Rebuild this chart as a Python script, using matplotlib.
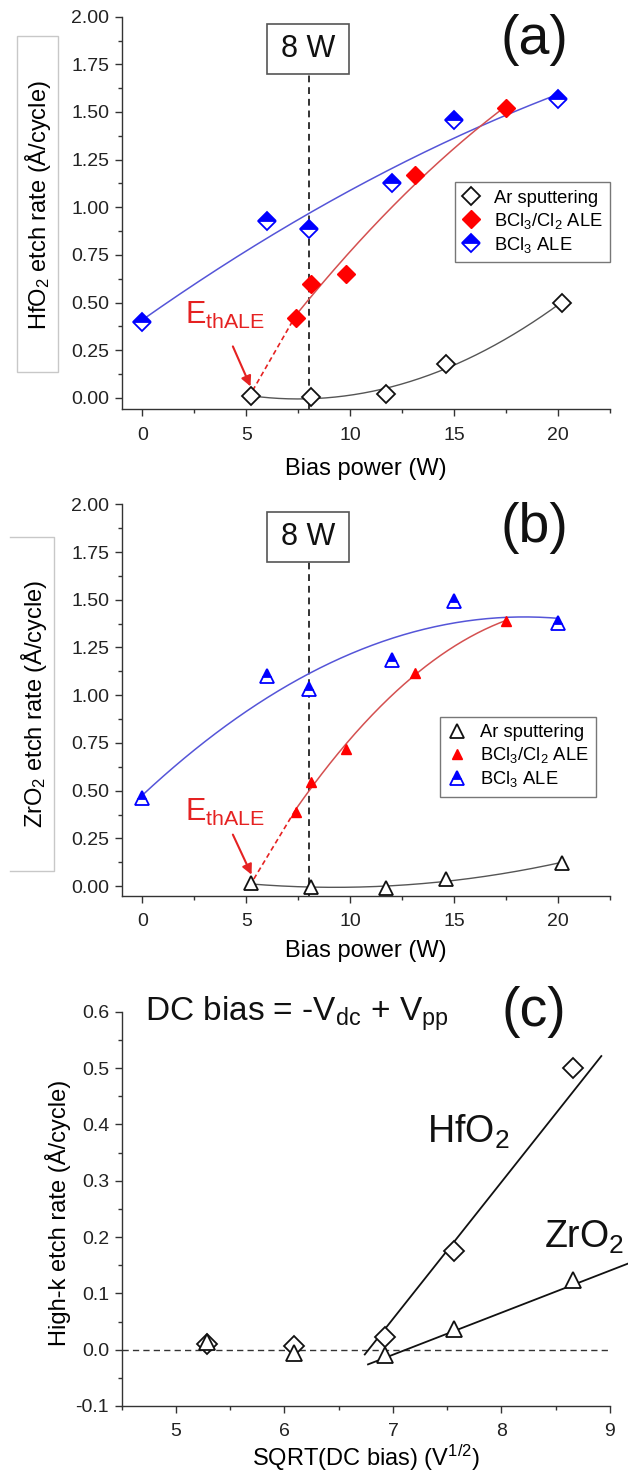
import numpy as np
import matplotlib
matplotlib.use("Agg")
import matplotlib.pyplot as plt
from matplotlib.patches import Rectangle
from matplotlib.lines import Line2D
from matplotlib.ticker import MultipleLocator, FormatStrFormatter

plt.rcParams['font.family'] = ['Liberation Sans', 'DejaVu Sans']
plt.rcParams['mathtext.fontset'] = 'custom'
plt.rcParams['mathtext.rm'] = 'Liberation Sans'
plt.rcParams['mathtext.it'] = 'Liberation Sans:italic'
plt.rcParams['mathtext.default'] = 'regular'

# ---------------- data ----------------
# Bias power (W) for each process
bias_ar = [5.2, 8.1, 11.7, 14.6, 20.2]
bias_bcl3cl2 = [7.4, 8.1, 9.8, 13.1, 17.5]
bias_bcl3 = [0, 6, 8, 12, 15, 20]

# HfO2 etch rate per cycle (Å/cycle)
hfo2_ar = [0.010, 0.006, 0.022, 0.176, 0.500]
hfo2_bcl3cl2 = [0.42, 0.60, 0.65, 1.17, 1.52]
hfo2_bcl3 = [0.40, 0.93, 0.885, 1.13, 1.46, 1.57]

# ZrO2 etch rate per cycle (Å/cycle)
zro2_ar = [0.014, -0.006, -0.009, 0.036, 0.123]
zro2_bcl3cl2 = [0.39, 0.545, 0.72, 1.115, 1.39]
zro2_bcl3 = [0.46, 1.10, 1.035, 1.185, 1.495, 1.38]

# ALE threshold bias power (W)
eth_hfo2 = 5.1
eth_zro2 = 5.15

# sqrt of the DC bias (V^1/2) for the Ar sputtering runs
sqrt_dc_bias = [5.29, 6.09, 6.93, 7.56, 8.66]

# linear sputter-yield lines: slope (Å/cycle per V^1/2), onset (V^1/2), drawn span
hfo2_slope, hfo2_onset, hfo2_span = 0.243, 6.775, (6.74, 8.92)
zro2_slope, zro2_onset, zro2_span = 0.0747, 7.12, (6.77, 9.25)

process_labels = ['Ar sputtering', 'BCl$_3$/Cl$_2$ ALE', 'BCl$_3$ ALE']

# ---------------- figure ----------------
W, H = 628, 1473
fig = plt.figure(figsize=(W / 100, H / 100), dpi=100)


def px_axes(left, top, right, bottom):
    return fig.add_axes([left / W, 1 - bottom / H, (right - left) / W, (bottom - top) / H])


RED = '#ff0000'
BLUE = '#0000ff'
RED_FIT = '#d45050'
BLUE_FIT = '#5555d8'
GREY_FIT = '#555555'
ANNOT_RED = '#e52222'
SPINE = '#333333'


def style_axes(ax, xlim, ylim, xmaj, xmin, ymaj, ymin, yfmt):
    ax.set_xlim(*xlim)
    ax.set_ylim(*ylim)
    for s in ('top', 'right'):
        ax.spines[s].set_visible(False)
    for s in ('left', 'bottom'):
        ax.spines[s].set_linewidth(1.0)
        ax.spines[s].set_color(SPINE)
    ax.xaxis.set_major_locator(MultipleLocator(xmaj))
    ax.xaxis.set_minor_locator(MultipleLocator(xmin))
    ax.yaxis.set_major_locator(MultipleLocator(ymaj))
    ax.yaxis.set_minor_locator(MultipleLocator(ymin))
    ax.yaxis.set_major_formatter(FormatStrFormatter(yfmt))
    ax.tick_params(which='major', direction='out', length=5, width=1.0, color=SPINE,
                   labelsize=14, labelcolor='#222222')
    ax.tick_params(axis='x', which='major', pad=7.5)
    ax.tick_params(axis='y', which='major', pad=4)
    ax.tick_params(which='minor', direction='out', length=2.8, width=1.0, color=SPINE)


def quad_fit(x, y, x0, x1):
    c = np.polyfit(x, y, 2)
    xs = np.linspace(x0, x1, 200)
    return xs, np.polyval(c, xs), c


def bias_panel(ax, y_ar, y_cl, y_b, marker, eth, ylim, ms_open, ms_red, ms_blue,
               label_tag, ylabel, legend_anchor, eth_text_y):
    style_axes(ax, (-1, 22.5), ylim, 5, 2.5, 0.25, 0.125, '%.2f')

    # fitted trends
    xs, ys, _ = quad_fit(bias_bcl3, y_b, min(bias_bcl3), max(bias_bcl3))
    ax.plot(xs, ys, color=BLUE_FIT, lw=1.1, zorder=2)
    xs, ys, c_red = quad_fit(bias_bcl3cl2, y_cl, min(bias_bcl3cl2), max(bias_bcl3cl2))
    ax.plot(xs, ys, color=RED_FIT, lw=1.1, zorder=2)
    ax.plot([eth, bias_bcl3cl2[0]], [0, np.polyval(c_red, bias_bcl3cl2[0])],
            color=ANNOT_RED, lw=1.2, ls=(0, (3, 2)), zorder=2)
    xs, ys, _ = quad_fit(bias_ar, y_ar, min(bias_ar), max(bias_ar))
    ax.plot(xs, ys, color=GREY_FIT, lw=1.0, zorder=2)

    # 8 W marker line and box
    box_x0, box_x1, box_y0, box_y1 = 6.0, 9.93, 1.70, 1.96
    ax.plot([8, 8], [ylim[0], box_y0], color=SPINE, lw=1.4, ls=(0, (3.5, 2.5)), zorder=1)
    ax.add_patch(Rectangle((box_x0, box_y0), box_x1 - box_x0, box_y1 - box_y0,
                           fill=False, ec='#555555', lw=1.2, clip_on=False, zorder=3))
    ax.text((box_x0 + box_x1) / 2, (box_y0 + box_y1) / 2, '8 W', fontsize=22,
            ha='center', va='center', color='#111111')

    # data points
    h_ar, = ax.plot(bias_ar, y_ar, ls='none', marker=marker, ms=ms_open, mfc='white',
                    mec='#111111', mew=1.3, zorder=4)
    h_cl, = ax.plot(bias_bcl3cl2, y_cl, ls='none', marker=marker, ms=ms_red, mfc=RED,
                    mec=RED, mew=1.0, zorder=4)
    h_b, = ax.plot(bias_bcl3, y_b, ls='none', marker=marker, ms=ms_blue, mfc=BLUE,
                   mfcalt='white', fillstyle='top', mec=BLUE, mew=1.3, zorder=4)

    leg = ax.legend([h_ar, h_cl, h_b], process_labels, loc='upper right',
                    bbox_to_anchor=legend_anchor, fontsize=13.2, frameon=True,
                    fancybox=False, edgecolor='#777777', framealpha=1, numpoints=1,
                    handlelength=1.0, handletextpad=0.75, labelspacing=0.22,
                    borderpad=0.4, borderaxespad=0)
    leg.get_frame().set_linewidth(1.0)

    # threshold annotation
    ax.text(2.03, eth_text_y, 'E$_{thALE}$', fontsize=22, color=ANNOT_RED,
            ha='left', va='baseline')
    ax.annotate('', xy=(eth + 0.1, 0.06), xytext=(4.35, 0.27),
                arrowprops=dict(arrowstyle='-|>', color=ANNOT_RED, lw=1.5,
                                mutation_scale=15, shrinkA=0, shrinkB=0))

    ax.text(0.845, 0.94, label_tag, transform=ax.transAxes, fontsize=40,
            ha='center', va='center', color='#111111')
    ax.set_xlabel('Bias power (W)', fontsize=17, labelpad=10)
    ax.set_ylabel(ylabel, fontsize=17, va='center')


# ---------- (a) HfO2 ----------
ax_a = px_axes(121.7, 16.7, 610, 409.3)
bias_panel(ax_a, hfo2_ar, hfo2_bcl3cl2, hfo2_bcl3, 'D', eth_hfo2, (-0.06, 2.0),
           9, 9, 9, '(a)', 'HfO$_2$ etch rate (Å/cycle)', (1.0, 0.578), 0.39)
ax_a.yaxis.set_label_coords((38 - 121.7) / (610 - 121.7), 0.52)

# ---------- (b) ZrO2 ----------
ax_b = px_axes(121.7, 504.3, 610, 895.7)
bias_panel(ax_b, zro2_ar, zro2_bcl3cl2, zro2_bcl3, '^', eth_zro2, (-0.05, 2.0),
           10, 7.5, 10, '(b)', 'ZrO$_2$ etch rate (Å/cycle)', (0.971, 0.457), 0.34)
ax_b.xaxis.labelpad = 7
ax_b.yaxis.set_label_coords((34 - 121.7) / (610 - 121.7), 0.49)

# label frames on the left
fig.add_artist(Rectangle((17 / W, 1 - 372 / H), (58 - 17) / W, (372 - 36) / H,
                         transform=fig.transFigure, fill=False, ec='#c8c8c8', lw=1.0))
fig.add_artist(Line2D([10 / W, 54 / W, 54 / W, 10 / W],
                      [1 - 537 / H, 1 - 537 / H, 1 - 871 / H, 1 - 871 / H],
                      transform=fig.transFigure, color='#c8c8c8', lw=1.0))

# ---------- (c) sputter yield vs sqrt(DC bias) ----------
ax_c = px_axes(121.7, 1011.7, 610, 1406)
style_axes(ax_c, (4.5, 9.0), (-0.1, 0.6), 1, 0.5, 0.1, 0.05, '%.1f')
ax_c.axhline(0, color=SPINE, lw=1.0, ls=(0, (4.5, 3)), zorder=1)

xh = np.array(hfo2_span)
ax_c.plot(xh, hfo2_slope * (xh - hfo2_onset), color='#111111', lw=1.3, zorder=2, clip_on=False)
xz = np.array(zro2_span)
ax_c.plot(xz, zro2_slope * (xz - zro2_onset), color='#111111', lw=1.3, zorder=2, clip_on=False)

ax_c.plot(sqrt_dc_bias, hfo2_ar, ls='none', marker='D', ms=10, mfc='white', mec='#111111',
          mew=1.3, zorder=4)
ax_c.plot(sqrt_dc_bias, zro2_ar, ls='none', marker='^', ms=11, mfc='white', mec='#111111',
          mew=1.3, zorder=4)

ax_c.text(4.715, 0.5835, 'DC bias = -V$_{dc}$ + V$_{pp}$', fontsize=24, ha='left',
          va='baseline', color='#111111')
ax_c.text(7.317, 0.368, 'HfO$_2$', fontsize=27, ha='left', va='baseline', color='#111111')
ax_c.text(8.39, 0.1805, 'ZrO$_2$', fontsize=27, ha='left', va='baseline', color='#111111',
          clip_on=False)
ax_c.text(0.845, 1.0, '(c)', transform=ax_c.transAxes, fontsize=40, ha='center',
          va='center', color='#111111')
ax_c.set_xlabel('SQRT(DC bias) (V$^{1/2}$)', fontsize=17, labelpad=2)
ax_c.set_ylabel('High-k etch rate (Å/cycle)', fontsize=17, va='center')
ax_c.yaxis.set_label_coords((58 - 121.7) / (610 - 121.7), 0.49)

fig.savefig('out.png', dpi=100)
